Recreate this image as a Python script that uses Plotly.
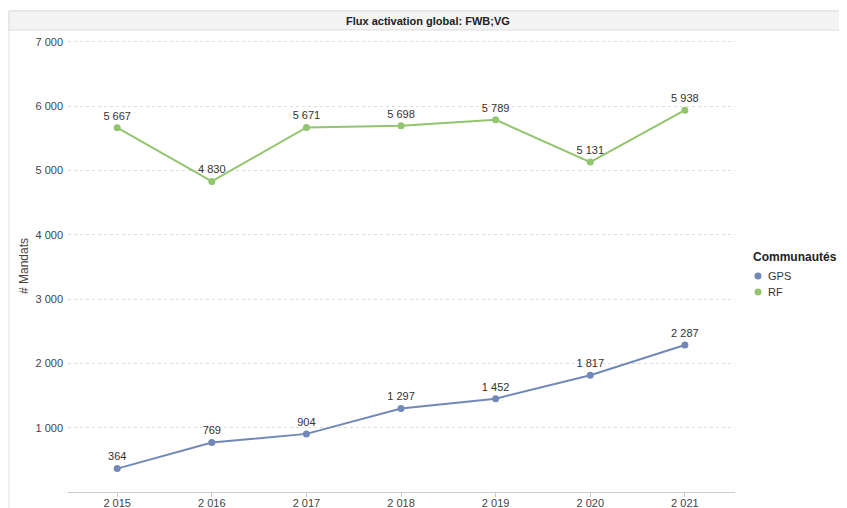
import plotly.graph_objects as go

years = ["2015", "2016", "2017", "2018", "2019", "2020", "2021"]
year_labels = ["2 015", "2 016", "2 017", "2 018", "2 019", "2 020", "2 021"]
gps = [364, 769, 904, 1297, 1452, 1817, 2287]
rf = [5667, 4830, 5671, 5698, 5789, 5131, 5938]
y_ticks = [1000, 2000, 3000, 4000, 5000, 6000, 7000]
y_tick_labels = ["1 000", "2 000", "3 000", "4 000", "5 000", "6 000", "7 000"]
series_names = ["GPS", "RF"]

GPS_COLOR = "#7189b9"
RF_COLOR = "#93c56f"

def fmt(v):
    return f"{v:,}".replace(",", " ")

xs = list(range(len(years)))

fig = go.Figure()
for name, vals, col in [("GPS", gps, GPS_COLOR), ("RF", rf, RF_COLOR)]:
    fig.add_trace(go.Scatter(
        x=xs, y=vals, name=name, mode="lines+markers+text", showlegend=False,
        line=dict(color=col, width=2), marker=dict(size=7, color=col),
        text=[fmt(v) for v in vals], textposition="top center",
        textfont=dict(family="Liberation Sans, Arial", size=11, color="#333333"),
        cliponaxis=False,
    ))

W, H = 847, 508
OFF = 8  # page body margin
L, R, T, B = 60, 120, 32, 24
pw, ph = W - L - R, H - T - B

def px(sx):
    return (sx - OFF - L) / pw

def py(sy):
    return (H - B - (sy - OFF)) / ph

shapes = [
    dict(type="rect", xref="paper", yref="paper",
         x0=px(9), x1=px(849), y0=py(510), y1=py(11),
         line=dict(color="#e0e0e0", width=1), fillcolor="rgba(0,0,0,0)", layer="below"),
    dict(type="rect", xref="paper", yref="paper",
         x0=px(9), x1=px(849), y0=py(30), y1=py(11),
         line=dict(color="#dddddd", width=1), fillcolor="#f4f4f4", layer="below"),
]
annotations = [
    dict(text="<b>Flux activation global: FWB;VG</b>", xref="paper", yref="paper",
         x=px(428), y=py(21), xanchor="center", yanchor="middle", showarrow=False,
         font=dict(family="Liberation Sans Narrow, Arial Narrow, Liberation Sans", size=11, color="#222222")),
    dict(text="<b>Communautés</b>", xref="paper", yref="paper",
         x=px(751), y=py(257), xanchor="left", yanchor="middle", showarrow=False,
         font=dict(size=12, color="#222222")),
]
for i, (name, col) in enumerate(zip(series_names, [GPS_COLOR, RF_COLOR])):
    cy = 276 + i * 16
    shapes.append(dict(type="circle", xref="paper", yref="paper",
                       x0=px(754.5), x1=px(761.5), y0=py(cy + 3.5), y1=py(cy - 3.5),
                       line=dict(width=0), fillcolor=col))
    annotations.append(dict(text=name, xref="paper", yref="paper",
                            x=px(766), y=py(cy), xanchor="left", yanchor="middle",
                            showarrow=False, font=dict(size=11, color="#333333")))

fig.update_layout(
    width=W, height=H,
    margin=dict(l=L, r=R, t=T, b=B, autoexpand=False),
    paper_bgcolor="white", plot_bgcolor="white",
    font=dict(family="Liberation Sans, Arial", size=11, color="#444444"),
    showlegend=False,
    xaxis=dict(
        tickmode="array", tickvals=xs, ticktext=year_labels,
        range=[-0.52, 6.53], showgrid=False, zeroline=False,
        showline=True, linecolor="#cccccc", linewidth=1,
        ticks="outside", ticklen=4, tickcolor="#cccccc",
        tickfont=dict(size=11, color="#444444"), automargin=False,
        ticklabelstandoff=-3,
    ),
    yaxis=dict(
        range=[0, 7030], tickmode="array", tickvals=y_ticks, ticktext=y_tick_labels,
        showgrid=True, gridcolor="#dddddd", griddash="dot", zeroline=False,
        showline=False, tickfont=dict(size=11, color="#444444"), automargin=False,
        ticklabelstandoff=4,
        title=dict(text="# Mandats", font=dict(size=12, color="#444444"), standoff=4),
    ),
    shapes=shapes,
    annotations=annotations,
)

fig.write_html("out.html")
